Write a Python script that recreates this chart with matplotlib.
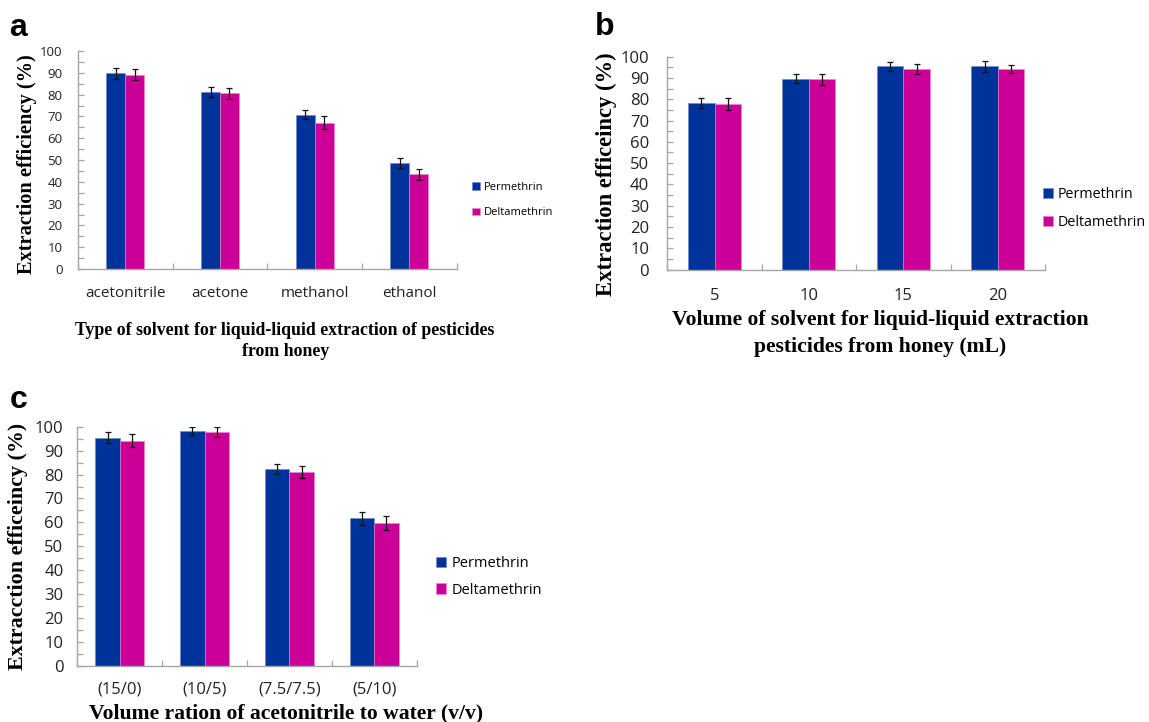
import matplotlib
matplotlib.use("Agg")
import matplotlib.pyplot as plt
import numpy as np

W, H = 1149, 722

# ---------------- data ----------------
solvents = ["acetonitrile", "acetone", "methanol", "ethanol"]
perm_a = [89.7, 81.4, 70.8, 48.5]
delta_a = [89.2, 80.6, 67.2, 43.5]
perm_a_err = [2.4, 2.3, 2.2, 2.2]
delta_a_err = [2.6, 2.4, 2.8, 2.6]

volumes = ["5", "10", "15", "20"]
perm_b = [78.3, 89.7, 95.6, 95.4]
delta_b = [77.8, 89.3, 94.3, 94.3]
perm_b_err = [2.3, 2.0, 2.1, 2.6]
delta_b_err = [2.8, 2.4, 2.2, 2.0]

ratios = ["(15/0)", "(10/5)", "(7.5/7.5)", "(5/10)"]
perm_c = [95.4, 98.2, 82.3, 61.7]
delta_c = [94.2, 97.8, 81.1, 59.6]
perm_c_err = [2.2, 1.5, 2.2, 2.6]
delta_c_err = [2.7, 1.9, 2.5, 2.9]

series_names = ["Permethrin", "Deltamethrin"]
colors = ["#003399", "#CC0099"]

TICK_FONT = ["Open Sans", "DejaVu Sans"]
SERIF = ["Liberation Serif", "DejaVu Serif"]
AXCOL = "#A6A6A6"

fig = plt.figure(figsize=(W / 100, H / 100), dpi=100)


def rect(l, r, t, b):
    return [l / W, 1 - b / H, (r - l) / W, (b - t) / H]


def ftext(x, y, s, **kw):
    return fig.text(x / W, 1 - y / H, s, **kw)


def panel(box, cats, p, d, pe, de, width, ytick_fs, xtick_fs, ypad, xpad):
    ax = fig.add_axes(rect(*box))
    x = np.arange(len(cats))
    ax.bar(x - width / 2, p, width, color=colors[0], label=series_names[0],
           edgecolor="#6f86c6", linewidth=0.4, zorder=2)
    ax.bar(x + width / 2, d, width, color=colors[1], label=series_names[1],
           edgecolor="#e58acb", linewidth=0.4, zorder=2)
    ax.errorbar(x - width / 2, p, yerr=pe, fmt="none", ecolor="#111111",
                elinewidth=0.9, capsize=2.2, capthick=0.9, zorder=3)
    ax.errorbar(x + width / 2, d, yerr=de, fmt="none", ecolor="#111111",
                elinewidth=0.9, capsize=2.2, capthick=0.9, zorder=3)
    ax.set_xlim(-0.5, len(cats) - 0.5)
    ax.set_ylim(0, 100)
    ax.set_yticks(np.arange(0, 101, 10))
    ax.set_yticks(np.arange(5, 100, 10), minor=True)
    ax.set_xticks(np.arange(-0.5, len(cats), 1.0))
    ax.set_xticklabels([])
    ax.set_xticks(x, minor=True)
    ax.set_xticklabels(cats, minor=True, fontfamily=TICK_FONT,
                       fontsize=xtick_fs, color="#222222")
    ax.tick_params(axis="x", which="major", direction="in", length=4,
                   color=AXCOL, width=0.9)
    ax.tick_params(axis="x", which="minor", length=0, pad=xpad)
    ax.tick_params(axis="y", which="both", direction="in", length=4,
                   color=AXCOL, width=0.9, pad=ypad)
    for lab in ax.get_yticklabels():
        lab.set_fontfamily(TICK_FONT)
        lab.set_fontsize(ytick_fs)
        lab.set_color("#222222")
    for s in ["top", "right"]:
        ax.spines[s].set_visible(False)
    for s in ["left", "bottom"]:
        ax.spines[s].set_color(AXCOL)
        ax.spines[s].set_linewidth(1.0)
    return ax


lab_kw = dict(fontfamily=SERIF, fontweight="bold", ha="center", va="center")

# ---------- panel a ----------
axa = panel((78, 456.7, 51, 269), solvents, perm_a, delta_a, perm_a_err,
            delta_a_err, 0.2, 9.5, 11, 11, 12)
ftext(27, 164, "Extraction efficiency (%)", rotation=90, fontsize=14.7, **lab_kw)
ftext(285, 331, "Type of solvent for liquid-liquid extraction of pesticides",
      fontsize=12.8, **lab_kw)
ftext(286, 352, "from honey", fontsize=12.8, **lab_kw)
axa.legend(loc="center left", bbox_to_anchor=(468 / W, 1 - 200 / H),
           bbox_transform=fig.transFigure, frameon=False,
           prop={"family": TICK_FONT, "size": 8}, handlelength=0.65,
           handleheight=0.65, handletextpad=0.35, labelspacing=1.3,
           borderaxespad=0)

# ---------- panel b ----------
axb = panel((667.3, 1045, 56.7, 269.5), volumes, perm_b, delta_b, perm_b_err,
            delta_b_err, 0.28, 12, 12, 13, 13)
ftext(606, 174, "Extraction efficeincy (%)", rotation=90, fontsize=16.3, **lab_kw)
ftext(880, 320, "Volume of solvent for liquid-liquid extraction",
      fontsize=15.6, **lab_kw)
ftext(880, 346.7, "pesticides from honey (mL)", fontsize=15.6, **lab_kw)
axb.legend(loc="center left", bbox_to_anchor=(1037 / W, 1 - 208.5 / H),
           bbox_transform=fig.transFigure, frameon=False,
           prop={"family": TICK_FONT, "size": 10.3}, handlelength=0.7,
           handleheight=0.7, handletextpad=0.35, labelspacing=0.92,
           borderaxespad=0)

# ---------- panel c ----------
axc = panel((77.3, 416.7, 426.7, 666), ratios, perm_c, delta_c, perm_c_err,
            delta_c_err, 0.287, 12, 12, 10, 11)
ftext(18, 546, "Extracction efficeincy (%)", rotation=90, fontsize=15.8, **lab_kw)
ftext(286, 713, "Volume ration of acetonitrile to water (v/v)",
      fontsize=15.6, **lab_kw)
axc.legend(loc="center left", bbox_to_anchor=(430 / W, 1 - 577 / H),
           bbox_transform=fig.transFigure, frameon=False,
           prop={"family": TICK_FONT, "size": 10.5}, handlelength=0.7,
           handleheight=0.7, handletextpad=0.35, labelspacing=0.78,
           borderaxespad=0)

# panel letters
for letter, xp, yp in [("a", 9, 36), ("b", 595, 35), ("c", 10, 408)]:
    ftext(xp, yp, letter, fontfamily=["Liberation Sans", "DejaVu Sans"],
          fontweight="bold", fontsize=23, ha="left", va="baseline")

fig.savefig("out.png", dpi=100, facecolor="white")
